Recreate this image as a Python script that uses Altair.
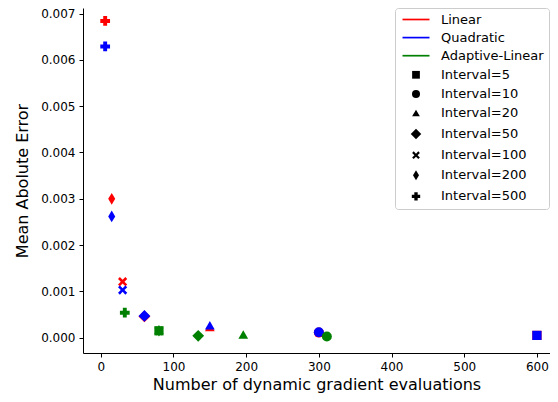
import altair as alt
import pandas as pd

# ---- data ----
methods = ["Linear", "Quadratic", "Adaptive-Linear"]
method_colors = ["#ff0000", "#0000ff", "#008000"]
intervals = ["Interval=5", "Interval=10", "Interval=20", "Interval=50",
             "Interval=100", "Interval=200", "Interval=500"]

# gradient evaluations per (method, interval)
lin_x = [600, 300, 150, 60, 30, 15, 6]
lin_y = [0.00005, 0.00011, 0.00023, 0.00046, 0.00121, 0.00300, 0.00684]
quad_x = [600, 300, 150, 60, 30, 15, 6]
quad_y = [0.00005, 0.00012, 0.00027, 0.00047, 0.00103, 0.00262, 0.00629]
adap_x = [80, 311, 196, 134, 80, 80, 33]
adap_y = [0.00015, 0.000025, 0.00007, 0.00004, 0.00015, 0.00015, 0.00054]

# marker shapes (Vega symbols / SVG paths)
X_PATH = "M-1,-0.6L-0.6,-1L0,-0.4L0.6,-1L1,-0.6L0.4,0L1,0.6L0.6,1L0,0.4L-0.6,1L-1,0.6L-0.4,0Z"
THIN_DIAMOND = "M0,-1L0.6,0L0,1L-0.6,0Z"
LINE_PATH = "M-2.7,0H2.7"
shapes = ["square", "circle", "triangle-up", "diamond", X_PATH, THIN_DIAMOND, "cross"]
sizes = [85, 100, 95, 140, 85, 137, 95]

rows = []
for m, col, xs, ys in zip(methods, method_colors, [lin_x, quad_x, adap_x], [lin_y, quad_y, adap_y]):
    order = list(range(len(intervals)))
    if m == "Adaptive-Linear":
        # hidden markers first, square drawn on top of them
        order = [4, 5, 0, 1, 2, 3, 6]
    for i in order:
        rows.append({"x": xs[i], "y": ys[i], "method": m, "col": col,
                     "interval": intervals[i], "shp": shapes[i], "sz": sizes[i]})
df = pd.DataFrame(rows)

# legend entries
legend_entries = methods + intervals
legend_fill = ["transparent"] * 3 + ["black"] * 7
legend_stroke = method_colors + ["transparent"] * 7
legend_shape = [LINE_PATH] * 3 + shapes
legend_size = [100] * 3 + [60, 64, 60, 110, 60, 100, 70]

points = alt.Chart(df).mark_point(filled=True, opacity=1, strokeWidth=0).encode(
    x=alt.X("x:Q", scale=alt.Scale(domain=[-24.5, 618], nice=False, zero=False),
            axis=alt.Axis(values=[0, 100, 200, 300, 400, 500, 600], format="d",
                          title="Number of dynamic gradient evaluations")),
    y=alt.Y("y:Q", scale=alt.Scale(domain=[-0.00033, 0.00712], nice=False, zero=False),
            axis=alt.Axis(values=[0, 0.001, 0.002, 0.003, 0.004, 0.005, 0.006, 0.007],
                          format=".3f", title="Mean Abolute Error")),
    color=alt.Color("col:N", scale=None),
    shape=alt.Shape("shp:N", scale=None),
    size=alt.Size("sz:Q", scale=None),
)

leg = alt.Legend(title=None, orient="none", legendX=312, legendY=0,
                 labelFontSize=13, labelFont="DejaVu Sans",
                 labelColor="black", rowPadding=4.1,
                 padding=5, cornerRadius=3, strokeColor="#cccccc",
                 fillColor="white", symbolStrokeWidth=1.7,
                 symbolOffset=9.5, labelOffset=18.5, labelLimit=300)

leg_df = pd.DataFrame({"entry": legend_entries})
legend_layer = alt.Chart(leg_df).mark_point(strokeWidth=1.7).encode(
    fill=alt.Fill("entry:N", scale=alt.Scale(domain=legend_entries, range=legend_fill),
                  legend=leg),
    stroke=alt.Stroke("entry:N", scale=alt.Scale(domain=legend_entries, range=legend_stroke),
                      legend=leg),
    shape=alt.Shape("entry:N", scale=alt.Scale(domain=legend_entries, range=legend_shape),
                    legend=leg),
    size=alt.Size("entry:N", scale=alt.Scale(type="ordinal", domain=legend_entries,
                                             range=legend_size),
                  legend=leg),
).transform_filter("false")

chart = alt.layer(points, legend_layer).properties(
    width=467, height=345,
    autosize=alt.AutoSizeParams(type="none"),
    padding={"left": 75, "top": 0, "right": 0, "bottom": 41},
).configure_view(stroke=None).configure_axis(
    grid=False, domainColor="black", domainWidth=1, tickColor="black", tickSize=4,
    tickWidth=1, labelPadding=4, labelFont="DejaVu Sans", labelFontSize=12,
    labelColor="black", titleFont="DejaVu Sans", titleFontSize=16,
    titleFontWeight="normal", titleColor="black",
).configure_axisY(titlePadding=10).configure_axisX(titlePadding=4)

chart.save("out.html", embed_options={"renderer": "svg", "actions": False})
